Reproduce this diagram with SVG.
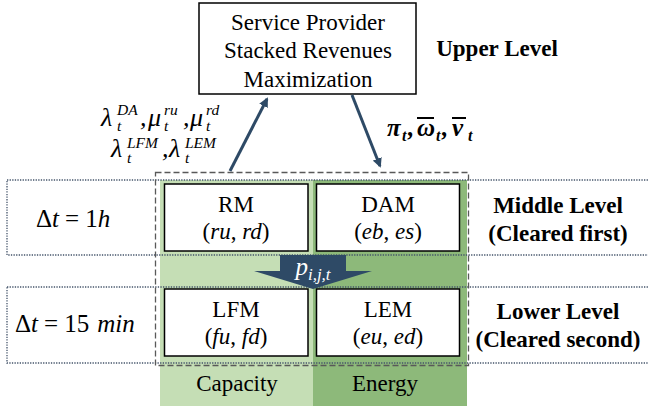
<svg xmlns="http://www.w3.org/2000/svg" width="648" height="409" viewBox="0 0 648 409">
<style>
text{font-family:'Liberation Serif','Times New Roman',Tinos,'DejaVu Serif',serif;fill:#000}
.lbl{font-size:23px;text-anchor:middle}
.bold{font-weight:bold;font-size:23px;text-anchor:middle}
.m{font-style:italic}
.sup{font-size:15.5px}
.box{fill:#fff;stroke:#000;stroke-width:1.5}
.dot{fill:none;stroke:#44546A;stroke-width:1.3;stroke-dasharray:1.3 1.3}
.dash{fill:none;stroke:#595959;stroke-width:1.3;stroke-dasharray:6 3}
.conn{stroke:#2E4A66;stroke-width:3;fill:none}
</style>
<defs>
<marker id="ah" viewBox="0 0 10 10" refX="8" refY="5" markerWidth="3.2" markerHeight="3.2" orient="auto" markerUnits="strokeWidth">
<path d="M0,0 L10,5 L0,10 z" fill="#2E4A66"/>
</marker>
</defs>
<rect width="648" height="409" fill="#fff"/>
<g id="columns">
<rect x="160" y="180" width="153" height="226" fill="#C5DEB5"/>
<rect x="313" y="180" width="154" height="226" fill="#8DB97A"/>
</g>
<g id="rows">
<rect class="dot" x="7" y="180" width="645" height="75"/>
<rect class="dot" x="7" y="287" width="645" height="76"/>
</g>
<rect class="dash" x="155.5" y="172.5" width="313" height="193"/>
<g id="top">
<rect class="box" x="199" y="3" width="217" height="91"/>
<text class="lbl" x="308" y="30" font-size="24.5">Service Provider</text>
<text class="lbl" x="308" y="58" font-size="24.5">Stacked Revenues</text>
<text class="lbl" x="308" y="87" font-size="24.5">Maximization</text>
</g>
<text class="bold" x="497" y="56" font-size="24">Upper Level</text>
<g id="rm">
<rect class="box" x="164.5" y="184" width="143.5" height="67"/>
<text class="lbl" x="236" y="212" font-size="24">RM</text>
<text class="lbl" x="236" y="239" font-size="24">(<tspan font-style="italic">ru</tspan>, <tspan font-style="italic">rd</tspan>)</text>
</g>
<g id="dam">
<rect class="box" x="316.5" y="184" width="143" height="67"/>
<text class="lbl" x="388" y="212" font-size="24">DAM</text>
<text class="lbl" x="388" y="239" font-size="24">(<tspan font-style="italic">eb</tspan>, <tspan font-style="italic">es</tspan>)</text>
</g>
<g id="lfm">
<rect class="box" x="164.5" y="289" width="143.5" height="67"/>
<text class="lbl" x="236" y="317" font-size="24">LFM</text>
<text class="lbl" x="236" y="344" font-size="24">(<tspan font-style="italic">fu</tspan>, <tspan font-style="italic">fd</tspan>)</text>
</g>
<g id="lem">
<rect class="box" x="316.5" y="289" width="143" height="67"/>
<text class="lbl" x="388" y="317" font-size="24">LEM</text>
<text class="lbl" x="388" y="344" font-size="24">(<tspan font-style="italic">eu</tspan>, <tspan font-style="italic">ed</tspan>)</text>
</g>
<g id="pijt">
<path d="M280,255 H346 V271 H372 L313,289 L254,271 H280 Z" fill="#2E4A66"/>
<text x="313" y="275" font-style="italic" font-size="25" style="fill:#fff" text-anchor="middle">p<tspan font-size="17" dy="5">i,j,t</tspan></text>
</g>
<text x="36" y="227" font-size="25">Δ<tspan font-style="italic">t</tspan><tspan dx="6">=</tspan><tspan dx="6">1</tspan><tspan font-style="italic">h</tspan></text>
<text x="15" y="332" font-size="25">Δ<tspan font-style="italic">t</tspan><tspan dx="6">=</tspan><tspan dx="6">15</tspan><tspan dx="8" font-style="italic">min</tspan></text>
<text class="bold" x="558" y="213">Middle Level</text>
<text class="bold" x="558" y="241">(Cleared first)</text>
<text class="bold" x="558" y="319">Lower Level</text>
<text class="bold" x="558" y="347">(Cleared second)</text>
<text class="lbl" x="237" y="391" font-size="22.5">Capacity</text>
<text class="lbl" x="385" y="391" font-size="22.5">Energy</text>
<g id="connectors">
<line class="conn" x1="230" y1="171" x2="267" y2="99" marker-end="url(#ah)"/>
<line class="conn" x1="352" y1="95" x2="380" y2="166" marker-end="url(#ah)"/>
</g>
<g id="labels">
<text class="m" font-size="26"><tspan x="101" y="126">λ</tspan><tspan class="sup" x="117" y="115">DA</tspan><tspan class="sup" x="117" y="131">t</tspan><tspan x="140" y="126">,</tspan><tspan x="148" y="126">μ</tspan><tspan class="sup" x="164" y="115">ru</tspan><tspan class="sup" x="164" y="131">t</tspan><tspan x="183" y="126">,</tspan><tspan x="190" y="126">μ</tspan><tspan class="sup" x="206" y="115">rd</tspan><tspan class="sup" x="206" y="131">t</tspan></text>
<text class="m" font-size="26"><tspan x="111" y="157">λ</tspan><tspan class="sup" x="127" y="148">LFM</tspan><tspan class="sup" x="127" y="163">t</tspan><tspan x="162" y="157">,</tspan><tspan x="169" y="157">λ</tspan><tspan class="sup" x="185" y="148">LEM</tspan><tspan class="sup" x="185" y="163">t</tspan></text>
<text class="m" font-size="25" font-weight="bold"><tspan x="387" y="136">π</tspan><tspan font-size="16" x="402" y="141">t</tspan><tspan x="408" y="136">,</tspan><tspan x="417" y="136">ω</tspan><tspan font-size="16" x="436" y="141">t</tspan><tspan x="442" y="136">,</tspan><tspan x="452" y="136">ν</tspan><tspan font-size="16" x="468" y="141">t</tspan></text>
<line x1="417" y1="118" x2="434" y2="118" stroke="#000" stroke-width="2"/>
<line x1="452" y1="118" x2="466" y2="118" stroke="#000" stroke-width="2"/>
</g>
</svg>
